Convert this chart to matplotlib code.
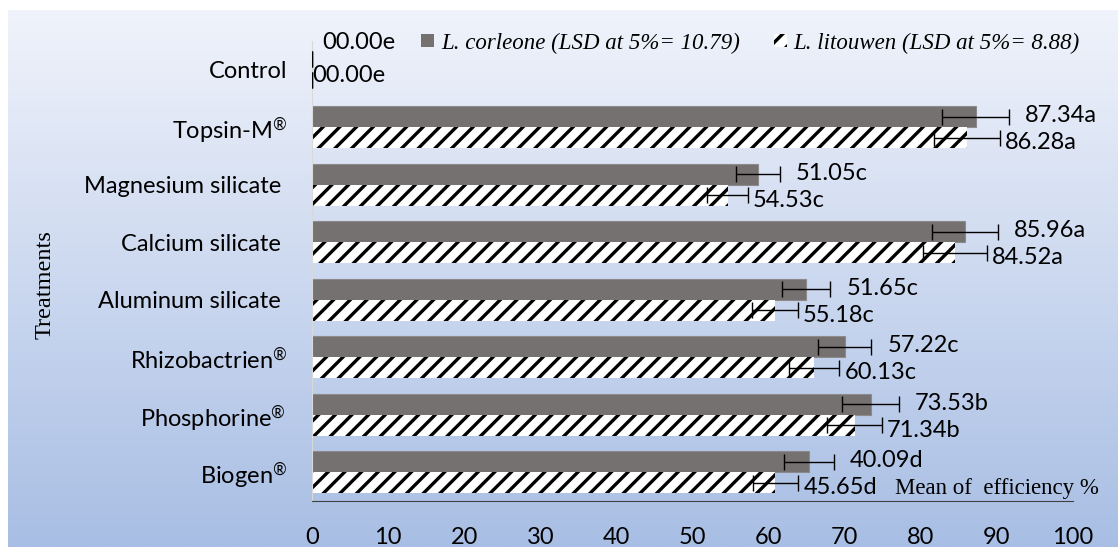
import numpy as np
import matplotlib
matplotlib.use("Agg")
import matplotlib.pyplot as plt
from matplotlib.colors import LinearSegmentedColormap
from matplotlib.patches import Patch

# data (bottom -> top as drawn)
treatments = ["Biogen$^{®}$", "Phosphorine$^{®}$ ", "Rhizobactrien$^{®}$", "Aluminum silicate ",
              "Calcium silicate ", "Magnesium silicate ", "Topsin-M$^{®}$", "Control"]
corleone = [65.3, 73.4, 70.0, 64.9, 85.8, 58.6, 87.2, 0.0]
litouwen = [60.9, 71.3, 66.0, 60.8, 84.5, 54.6, 86.1, 0.0]
corleone_err = [3.3, 3.7, 3.5, 3.2, 4.3, 2.9, 4.4, 0.0]
litouwen_err = [3.0, 3.6, 3.3, 3.0, 4.2, 2.7, 4.3, 0.0]
corleone_lbl = ["40.09d", "73.53b", "57.22c", "51.65c", "85.96a", "51.05c", "87.34a", "00.00e"]
litouwen_lbl = ["45.65d", "71.34b", "60.13c", "55.18c", "84.52a", "54.53c", "86.28a", "00.00e"]
xticks = [0, 10, 20, 30, 40, 50, 60, 70, 80, 90, 100]

plt.rcParams['hatch.linewidth'] = 2.4
plt.rcParams['mathtext.fontset'] = 'custom'
plt.rcParams['mathtext.rm'] = 'Lato'
plt.rcParams['mathtext.it'] = 'Lato'
plt.rcParams['mathtext.default'] = 'regular'
W, H = 1118, 547
fig = plt.figure(figsize=(W / 100, H / 100), dpi=100)

# gradient background
bg = fig.add_axes([8 / W, 0, 1 - 8 / W, 1 - 10 / H], zorder=-10)
cmap = LinearSegmentedColormap.from_list("bg", ["#f0f3fb", "#a8bee4"])
bg.imshow(np.linspace(0, 1, 256).reshape(-1, 1), aspect="auto", cmap=cmap,
          extent=[0, 1, 0, 1])
bg.axis("off")

ax = fig.add_axes([312 / W, 1 - 501 / H, (1073 - 312) / W, (501 - 41) / H])
ax.set_facecolor("none")

y = np.arange(len(treatments))
h = 0.365
ax.barh(y + h / 2, corleone, height=h, color="#767171", edgecolor="#8c8a8a",
        linewidth=0.8, zorder=2)
ax.barh(y - h / 2, litouwen, height=h, color="white", edgecolor="black",
        hatch="//", linewidth=0, zorder=2)
ax.errorbar(corleone, y + h / 2, xerr=corleone_err, fmt="none", ecolor="black",
            elinewidth=1, capsize=6, capthick=1, zorder=3)
ax.errorbar(litouwen, y - h / 2, xerr=litouwen_err, fmt="none", ecolor="black",
            elinewidth=1, capsize=6, capthick=1, zorder=3)

lab_font = dict(family="Lato", fontsize=17, color="black")
for i in range(len(y)):
    if corleone[i] == 0:
        ax.annotate(corleone_lbl[i], (0, y[i] + h / 2), xytext=(10, 17),
                    textcoords="offset pixels", va="center", ha="left", **lab_font)
        ax.annotate(litouwen_lbl[i], (0, y[i] - h / 2), xytext=(0, 5),
                    textcoords="offset pixels", va="center", ha="left", **lab_font)
        continue
    ax.annotate(corleone_lbl[i], (corleone[i] + corleone_err[i], y[i] + h / 2),
                xytext=(16, 1), textcoords="offset pixels", va="center",
                ha="left", **lab_font)
    ax.annotate(litouwen_lbl[i], (litouwen[i] + litouwen_err[i], y[i] - h / 2),
                xytext=(5, -5), textcoords="offset pixels", va="center",
                ha="left", **lab_font)

ax.set_xlim(0, 100)
ax.set_ylim(-0.5, len(y) - 0.5)
ax.set_xticks(xticks)
ax.set_yticks(y)
ax.set_yticklabels(treatments)
ax.tick_params(axis="both", length=0, labelsize=17)
ax.tick_params(axis="x", pad=19)
ax.tick_params(axis="y", pad=18)
for t in ax.get_xticklabels() + ax.get_yticklabels():
    t.set_family("Lato")
for s in ["top", "right"]:
    ax.spines[s].set_visible(False)
ax.spines["left"].set_color("#d9d9d9")
ax.spines["bottom"].set_color("#404040")

# legend
handles = [Patch(facecolor="#767171", edgecolor="none"),
           Patch(facecolor="white", edgecolor="black", hatch="//", linewidth=0)]
names = ["L. corleone (LSD at 5%= 10.79)", "L. litouwen (LSD at 5%= 8.88)"]
leg = fig.legend(handles, names, loc="center left",
                 bbox_to_anchor=(410 / W, 1 - 43 / H), ncol=2, frameon=False,
                 handlelength=0.55, handleheight=0.55, handletextpad=0.3,
                 columnspacing=1.5, borderpad=0,
                 prop=dict(family="Liberation Serif", style="italic", size=16.5))

fig.text(45 / W, 1 - 285 / H, "Treatments", rotation=90, va="center", ha="center",
         family="Liberation Serif", fontsize=17.5)
fig.text(895 / W, 1 - 499 / H, "Mean of  efficiency %", va="bottom", ha="left",
         family="Liberation Serif", fontsize=16.5)

fig.savefig("out.png", dpi=100)
